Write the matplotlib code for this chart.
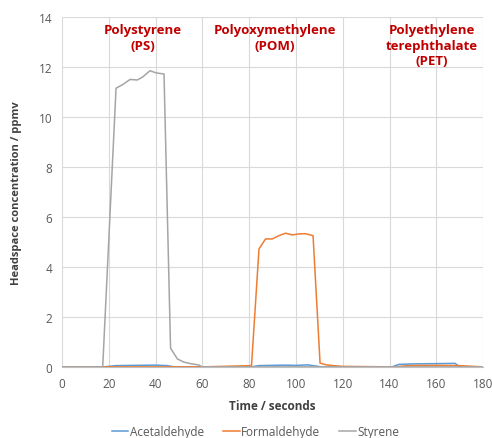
import matplotlib.pyplot as plt

# Time (s) / concentration (ppmv)
acet_t = [0, 18, 23, 30, 40, 45, 48, 60, 81, 84, 95, 100, 105, 108, 111, 120,
          141, 144, 150, 160, 168, 170, 180]
acet_v = [0, 0, 0.05, 0.06, 0.07, 0.05, 0, 0, 0, 0.05, 0.07, 0.06, 0.08, 0.04, 0, 0,
          0, 0.1, 0.12, 0.13, 0.14, 0, 0]

form_t = [0, 18, 60, 81, 84.2, 87, 89.9, 92.7, 95.6, 98.4, 101.3, 104.1, 107.3,
          110.3, 113.1, 116, 120, 142, 148, 160, 170, 180]
form_v = [0, 0, 0, 0.05, 4.72, 5.12, 5.12, 5.25, 5.35, 5.28, 5.32, 5.33, 5.25,
          0.15, 0.08, 0.05, 0.02, 0, 0.05, 0.06, 0.05, 0]

sty_t = [0, 17.4, 23.1, 26, 29.1, 32.2, 34.5, 37.6, 40.4, 43.6, 46.4, 49.3, 52.1,
         55.4, 58.3, 60, 180]
sty_v = [0, 0, 11.15, 11.3, 11.5, 11.48, 11.6, 11.85, 11.76, 11.72, 0.75, 0.32, 0.19,
         0.12, 0.08, 0, 0]

labels = ["Polystyrene\n(PS)", "Polyoxymethylene\n(POM)",
          "Polyethylene\nterephthalate\n(PET)"]
label_x = [34.6, 91, 158]

plt.rcParams['font.family'] = ['Open Sans', 'DejaVu Sans']

fig = plt.figure(figsize=(4.92, 4.39), dpi=100)
ax = fig.add_axes([0.126, 0.162, 0.856, 0.797])

ax.plot(acet_t, acet_v, color='#5B9BD5', lw=1.1, label='Acetaldehyde')
ax.plot(form_t, form_v, color='#ED7D31', lw=1.1, label='Formaldehyde')
ax.plot(sty_t, sty_v, color='#A5A5A5', lw=1.1, label='Styrene')

for txt, x in zip(labels, label_x):
    ax.text(x, 13.75, txt, ha='center', va='top', color='#C00000',
            fontsize=9.5, fontweight='bold', linespacing=1.25)

ax.set_xlim(0, 180)
ax.set_ylim(0, 14)
ax.set_xticks(range(0, 181, 20))
ax.set_yticks(range(0, 15, 2))
ax.grid(True, color='#D9D9D9', lw=0.8)
ax.set_axisbelow(True)
for s in ['top', 'right', 'left']:
    ax.spines[s].set_visible(False)
ax.spines['bottom'].set_color('#BFBFBF')
ax.tick_params(length=0, labelsize=8.5, colors='#595959', pad=7)

ax.set_xlabel('Time / seconds', fontsize=8.5, fontweight='bold', color='#404040',
              labelpad=7)
ax.set_ylabel('Headspace concentration / ppmv', fontsize=8, fontweight='bold',
              color='#404040', labelpad=12)

ax.legend(loc='center', bbox_to_anchor=(0.46, -0.185), ncol=3, frameon=False,
          fontsize=8.5, handlelength=1.4, handletextpad=0.15, columnspacing=1.6,
          labelcolor='#595959')

fig.savefig('out.png', dpi=100)
